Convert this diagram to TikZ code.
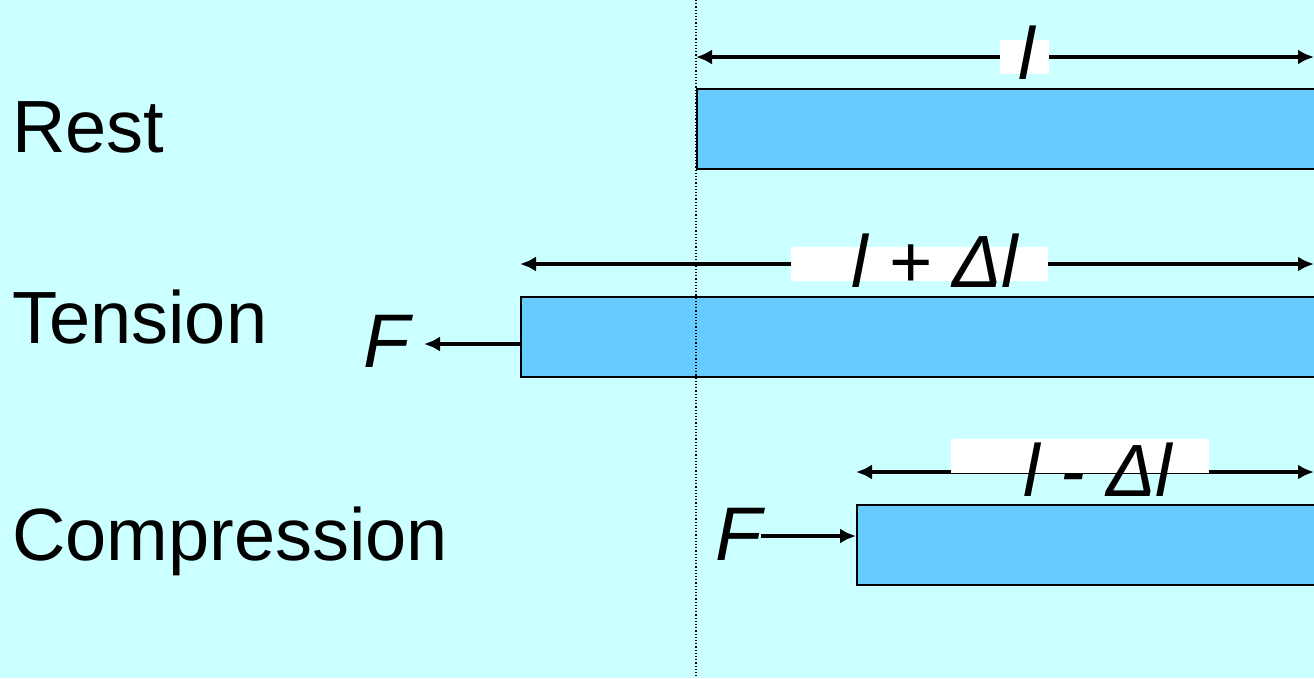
\documentclass[tikz,border=0pt]{standalone}
\usepackage{fontspec}
\setmainfont{Liberation Sans}
\usetikzlibrary{arrows.meta}
\definecolor{bgcol}{HTML}{CCFFFF}
\definecolor{barcol}{HTML}{66CCFF}
\tikzset{
  bar/.style={draw=black, line width=2.4pt, fill=barcol, inner sep=0pt, anchor=north west, minimum height=80pt, minimum width=#1},
  dimarrow/.style={line width=3.6pt, {Latex[length=16pt,width=15pt]}-{Latex[length=16pt,width=15pt]}},
  forcearrow/.style={line width=3.6pt, -{Latex[length=16pt,width=15pt]}},
  whitebox/.style={fill=white, inner sep=0pt, anchor=north west, minimum width=#1, minimum height=34pt},
  bigtext/.style={inner sep=0pt, anchor=base west, font=\fontsize{74}{80}\selectfont},
  mathtext/.style={inner sep=0pt, anchor=base, font=\fontsize{74}{80}\selectfont\itshape},
}
\begin{document}
\begin{tikzpicture}[x=1pt,y=-1pt]
\useasboundingbox (0,0) rectangle (1314,678);
\clip (0,0) rectangle (1314,678);
\fill[bgcol] (0,0) rectangle (1314,678);

% row labels
\node[bigtext] (rest) at (12,152) {Rest};
\node[bigtext] (tension) at (12,343) {Tension};
\node[bigtext] (compression) at (12,560) {Compression};

% bars
\node[bar=700pt] (restbar) at (696,88) {};
\node[bar=900pt] (tensbar) at (520,296) {};
\node[bar=600pt] (compbar) at (856,504) {};

% dotted reference line
\coordinate (dtop) at (696,0);
\coordinate (dbot) at (696,678);
\draw[line width=1.2pt, dotted] (dtop) -- (dbot);

% dimension arrows
\coordinate (r1) at (696,57);
\coordinate (r2) at (1314,57);
\draw[dimarrow] (r1) -- (r2);
\coordinate (t1) at (520,264);
\coordinate (t2) at (1314,264);
\draw[dimarrow] (t1) -- (t2);
\coordinate (c1) at (856,472);
\coordinate (c2) at (1314,472);
\draw[dimarrow] (c1) -- (c2);

% white label boxes
\node[whitebox=49pt] (rbox) at (1000,40) {};
\node[whitebox=257pt] (tbox) at (791,247) {};
\node[whitebox=258pt] (cbox) at (951,439) {};

% label texts
\node[mathtext] (rlab) at (1027,79) {l};
\node[mathtext] (tlab) at (935,287) {l + Δl};
\node[mathtext] (clab) at (1098,496) {l - Δl};

% forces
\node[bigtext, font=\fontsize{76}{80}\selectfont\itshape] (f1) at (363,367) {F};
\coordinate (f1tip) at (424,344);
\draw[forcearrow] (tensbar.west |- f1tip) -- (f1tip);
\node[bigtext, font=\fontsize{76}{80}\selectfont\itshape] (f2) at (715,560) {F};
\coordinate (f2start) at (761,536);
\draw[forcearrow] (f2start) -- (compbar.west |- f2start);
\end{tikzpicture}
\end{document}
